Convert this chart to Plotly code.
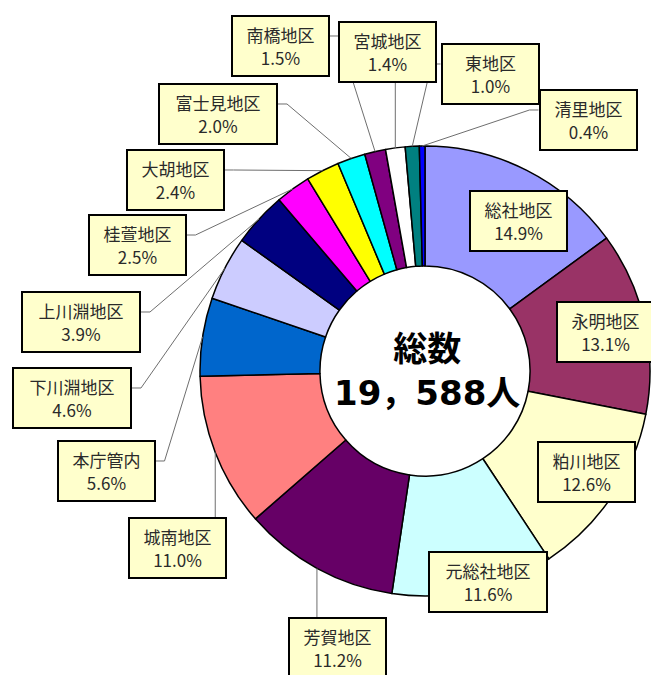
import math
import plotly.graph_objects as go

# ---- data ----
districts = ["総社地区", "永明地区", "粕川地区", "元総社地区", "芳賀地区", "城南地区",
             "本庁管内", "下川淵地区", "上川淵地区", "桂萱地区", "大胡地区", "富士見地区",
             "南橋地区", "宮城地区", "東地区", "清里地区"]
shares = [14.9, 13.1, 12.6, 11.6, 11.2, 11.0, 5.6, 4.6, 3.9, 2.5, 2.4, 2.0, 1.5, 1.4, 1.0, 0.4]
total_title = "総数"
total_label = "19，588人"
colors = ["#9999FF", "#993366", "#FFFFCC", "#CCFFFF", "#660066", "#FF8080", "#0066CC",
          "#CCCCFF", "#000080", "#FF00FF", "#FFFF00", "#00FFFF", "#800080", "#FFFFFF",
          "#008080", "#0000FF"]

# ---- layout constants (pixels) ----
W, H = 651, 675
CX, CY, R = 425, 371, 225
HOLE = 0.467

def px(x, y):
    return x / W, 1 - y / H

# label box centre and where its leader line leaves the box
label_pos = {
    "総社地区": (518, 221, None),
    "永明地区": (605, 332, None),
    "粕川地区": (586, 472, None),
    "元総社地区": (488, 582, None),
    "芳賀地区": (337, 648, "top"),
    "城南地区": (177, 548, "top"),
    "本庁管内": (106, 471, "right"),
    "下川淵地区": (72, 398, "right"),
    "上川淵地区": (81, 322, "right"),
    "桂萱地区": (137, 245, "right"),
    "大胡地区": (175, 180, "right"),
    "富士見地区": (218, 114, "right"),
    "南橋地区": (280, 46, "right"),
    "宮城地区": (387, 52, "bottom"),
    "東地区": (490, 74, "left"),
    "清里地区": (588, 120, "left"),
}
BOX_H = 62

def box_w(name):
    return 99 if len(name) <= 4 else 120

fig = go.Figure(go.Pie(
    labels=districts, values=shares, sort=False, direction="clockwise", rotation=0,
    hole=HOLE, textinfo="none", hoverinfo="label+percent",
    marker=dict(colors=colors, line=dict(color="#000000", width=1.5)),
    domain=dict(x=[(CX - R) / W, (CX + R) / W], y=[(H - CY - R) / H, (H - CY + R) / H]),
    showlegend=False,
))

shapes = []
annotations = []
tot = sum(shares)
cum = 0.0
for name, v in zip(districts, shares):
    a = 2 * math.pi * (cum + v / 2) / tot
    cum += v
    ax, ay = CX + R * math.sin(a), CY - R * math.cos(a)
    lx, ly, kind = label_pos[name]
    bw = box_w(name)
    pts = None
    if kind == "right":
        sx, sy = lx + bw / 2, ly - 10
        pts = [(sx, sy), (sx + 9, sy), (ax, ay)]
    elif kind == "left":
        sx, sy = lx - bw / 2, ly - 10
        pts = [(sx, sy), (sx - 9, sy), (ax, ay)]
    elif kind == "top":
        pts = [(ax, ly - BOX_H / 2), (ax, ay)]
    elif kind == "bottom":
        pts = [(ax, ly + BOX_H / 2), (ax, ay)]
    if pts:
        path = "M " + " L ".join(f"{px(x, y)[0]:.5f},{px(x, y)[1]:.5f}" for x, y in pts)
        shapes.append(dict(type="path", xref="paper", yref="paper", path=path,
                           line=dict(color="#6e6e6e", width=1)))
    x, y = px(lx, ly)
    annotations.append(dict(
        x=x, y=y, xref="paper", yref="paper", xanchor="center", yanchor="middle",
        showarrow=False, text=f"{name}<br>{v:.1f}%",
        font=dict(family="Noto Sans CJK JP", size=17, color="#2a2a2a"),
        bgcolor="#FFFFCC", bordercolor="#000000", borderwidth=2, borderpad=4,
        width=bw - 12, height=BOX_H - 12, align="center",
    ))

cx, cy = px(CX + 2, CY)
annotations.append(dict(
    x=cx, y=cy, xref="paper", yref="paper", xanchor="center", yanchor="middle",
    showarrow=False, text=f"<b>{total_title}</b><br><b>{total_label}</b>",
    font=dict(family="DejaVu Sans, Noto Sans CJK JP", size=34, color="#000000"),
))

fig.update_layout(
    width=W, height=H, margin=dict(l=0, r=0, t=0, b=0),
    paper_bgcolor="#FFFFFF", plot_bgcolor="#FFFFFF",
    shapes=shapes, annotations=annotations,
)

fig.write_html("out.html", config={"displayModeBar": False},
               post_script="document.body.style.margin='0';")
